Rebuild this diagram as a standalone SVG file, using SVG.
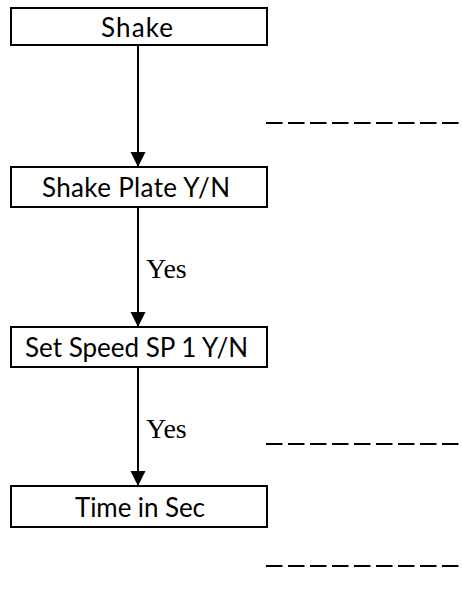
<svg xmlns="http://www.w3.org/2000/svg" width="462" height="597" viewBox="0 0 462 597">
<style>
.box{fill:#fff;stroke:#000;stroke-width:2}
.lbl{font-family:Lato,"Open Sans","Liberation Sans",sans-serif;font-size:26px;fill:#000;text-anchor:middle}
.yes{font-family:"Liberation Serif","Times New Roman",serif;font-size:28px;fill:#000}
.edge{stroke:#000;stroke-width:2;fill:none}
.dash{stroke:#000;stroke-width:2.2;stroke-dasharray:16.5 5.5;fill:none}
</style>
<defs>
<marker id="ah" markerWidth="15" markerHeight="16" refX="15" refY="7.5" orient="auto" markerUnits="userSpaceOnUse">
<path d="M0,0 L15,7.5 L0,15 Z" fill="#000"/>
</marker>
</defs>
<g id="connectors">
<line class="edge" x1="138" y1="45" x2="138" y2="167" marker-end="url(#ah)"/>
<line class="edge" x1="138" y1="207" x2="138" y2="327" marker-end="url(#ah)"/>
<line class="edge" x1="138" y1="367" x2="138" y2="486" marker-end="url(#ah)"/>
<text class="yes" x="146" y="278">Yes</text>
<text class="yes" x="146" y="438">Yes</text>
</g>
<g id="node-shake">
<rect class="box" x="11" y="8" width="256" height="37"/>
<text class="lbl" x="137" y="37" textLength="72">Shake</text>
</g>
<g id="node-shake-plate">
<rect class="box" x="11" y="167" width="256" height="40"/>
<text class="lbl" x="136" y="197" textLength="188">Shake Plate Y/N</text>
</g>
<g id="node-set-speed">
<rect class="box" x="11" y="327" width="256" height="40"/>
<text class="lbl" x="136.5" y="357" textLength="223">Set Speed SP 1 Y/N</text>
</g>
<g id="node-time">
<rect class="box" x="11" y="486" width="256" height="41"/>
<text class="lbl" x="140" y="517" textLength="130">Time in Sec</text>
</g>
<g id="dashed-lines">
<line class="dash" x1="266" y1="123" x2="459" y2="123"/>
<line class="dash" x1="266" y1="444" x2="459" y2="444"/>
<line class="dash" x1="266" y1="566" x2="459" y2="566"/>
</g>
</svg>
